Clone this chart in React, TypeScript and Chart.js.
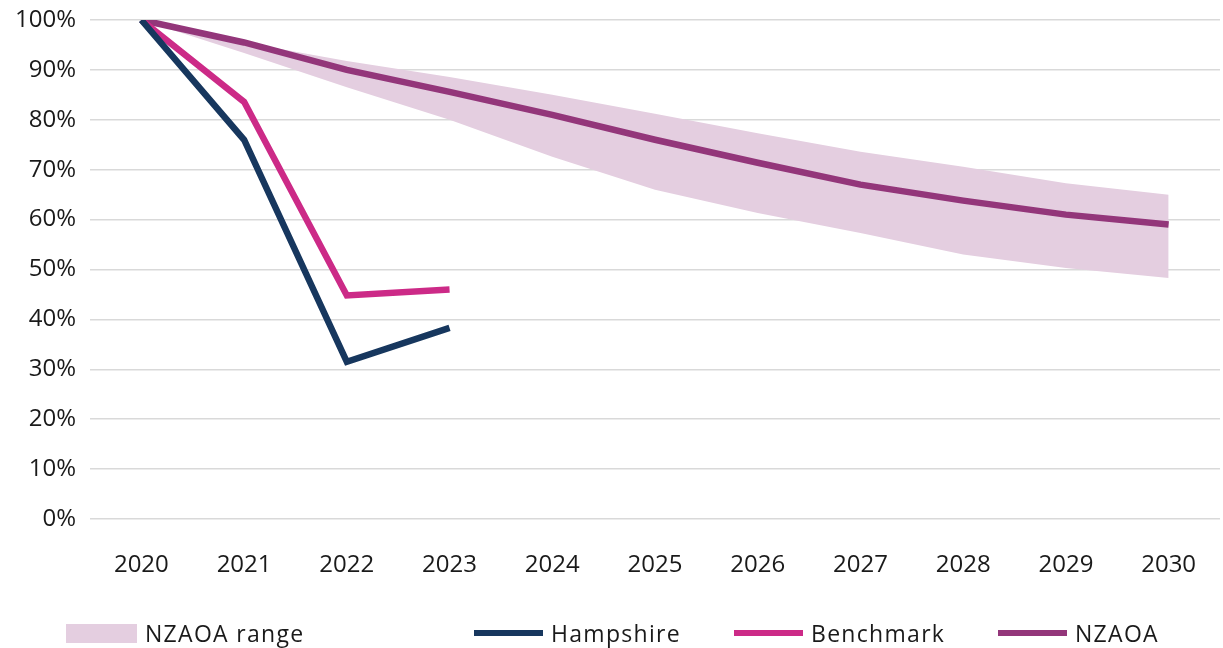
import React, { useEffect, useRef } from "react";
import { Chart, registerables } from "chart.js";

Chart.register(...registerables);

const years = ["2020", "2021", "2022", "2023", "2024", "2025", "2026", "2027", "2028", "2029", "2030"];
const rangeUpper = [100, 95.5, 91.8, 88.6, 85, 81.2, 77.3, 73.6, 70.6, 67.3, 65];
const rangeLower = [100, 93.4, 86.5, 80, 72.6, 66, 61.3, 57.3, 53, 50.3, 48.3];
const nzaoa = [100, 95.5, 90, 85.6, 81, 76, 71.4, 67, 63.8, 61, 59];
const hampshire = [100, 76, 31.5, 38.3, null, null, null, null, null, null, null];
const benchmark = [100, 83.6, 44.8, 46, null, null, null, null, null, null, null];
const yTicks = [0, 10, 20, 30, 40, 50, 60, 70, 80, 90, 100];

const colors = {
  range: "#E4CEE0",
  hampshire: "#17375E",
  benchmark: "#CC2A87",
  nzaoa: "#93367A",
};

const FONT = "'Open Sans', sans-serif";

export default function App() {
  const ref = useRef<HTMLCanvasElement | null>(null);

  useEffect(() => {
    if (!ref.current) return;
    const chart = new Chart(ref.current, {
      type: "line",
      data: {
        labels: years,
        datasets: [
          {
            label: "NZAOA range upper",
            data: rangeUpper,
            borderWidth: 0,
            borderColor: "rgba(0,0,0,0)",
            backgroundColor: colors.range,
            pointRadius: 0,
            fill: "+1",
            order: 10,
          },
          {
            label: "NZAOA range lower",
            data: rangeLower,
            borderWidth: 0,
            borderColor: "rgba(0,0,0,0)",
            backgroundColor: colors.range,
            pointRadius: 0,
            fill: false,
            order: 11,
          },
          {
            label: "NZAOA",
            data: nzaoa,
            borderColor: colors.nzaoa,
            borderWidth: 6.5,
            pointRadius: 0,
            fill: false,
            order: 3,
          },
          {
            label: "Benchmark",
            data: benchmark,
            borderColor: colors.benchmark,
            borderWidth: 6.5,
            pointRadius: 0,
            fill: false,
            order: 2,
          },
          {
            label: "Hampshire",
            data: hampshire,
            borderColor: colors.hampshire,
            borderWidth: 6.5,
            pointRadius: 0,
            fill: false,
            order: 1,
          },
        ],
      },
      options: {
        animation: false,
        responsive: false,
        maintainAspectRatio: false,
        layout: { padding: { top: 20, right: 3, left: 0, bottom: 0 } },
        plugins: {
          legend: { display: false },
          tooltip: { enabled: false },
        },
        scales: {
          x: {
            offset: true,
            grid: { display: false },
            border: { display: false },
            ticks: {
              color: "#1a1a1a",
              font: { family: FONT, size: 24 },
              padding: 24,
              maxRotation: 0,
            },
            afterFit: (s: any) => {
              s.height = 81;
            },
          },
          y: {
            min: 0,
            max: 100,
            afterBuildTicks: (s: any) => {
              s.ticks = yTicks.map((v) => ({ value: v }));
            },
            grid: { color: "#D9D9D9", lineWidth: 1.5, drawTicks: false },
            border: { display: false },
            ticks: {
              color: "#1a1a1a",
              font: { family: FONT, size: 24 },
              padding: 14,
              callback: (v: any) => v + "%",
            },
            afterFit: (s: any) => {
              s.width = 90;
              s.paddingTop = 0;
              s.paddingBottom = 0;
            },
          },
        },
      },
    });
    return () => chart.destroy();
  }, []);

  const legendItems = [
    { label: "NZAOA range", color: colors.range, left: 66, box: true },
    { label: "Hampshire", color: colors.hampshire, left: 474, box: false },
    { label: "Benchmark", color: colors.benchmark, left: 734, box: false },
    { label: "NZAOA", color: colors.nzaoa, left: 998, box: false },
  ];

  return (
    <div style={{ position: "fixed", left: 0, top: 0, width: 1223, height: 648, background: "#fff" }}>
      <canvas ref={ref} width={1223} height={600} style={{ display: "block" }} />
      {legendItems.map((it) => (
        <div
          key={it.label}
          style={{
            position: "absolute",
            left: it.left,
            top: 618,
            height: 30,
            display: "flex",
            alignItems: "center",
            fontFamily: FONT,
            fontSize: 23,
            letterSpacing: "1.3px",
            color: "#1a1a1a",
            whiteSpace: "nowrap",
          }}
        >
          <div
            style={{
              width: it.box ? 71 : 69,
              height: it.box ? 19 : 6,
              background: it.color,
              marginRight: 8,
            }}
          />
          <span>{it.label}</span>
        </div>
      ))}
    </div>
  );
}
